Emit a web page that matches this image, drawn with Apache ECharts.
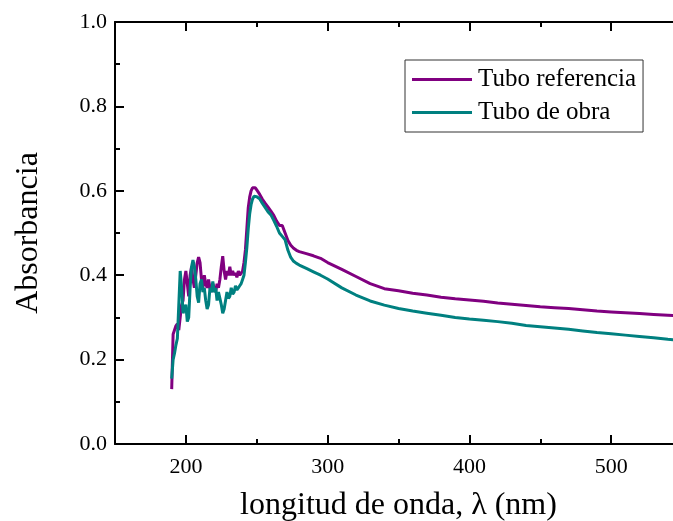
<!DOCTYPE html>
<html>
<head>
<meta charset="utf-8">
<script src="https://cdn.jsdelivr.net/npm/echarts@6/dist/echarts.min.js"></script>
<style>html,body{margin:0;padding:0;background:#fff}#c{width:673px;height:521px}</style>
</head>
<body>
<div id="c"></div>
<script>
const wavelengths = [190,191,192,193,194,195,196,197,198,199,200,201,202,203,204,205,206,207,208,209,210,211,212,213,214,215,216,217,218,219,220,221,222,223,224,225,226,227,228,229,230,231,232,233,234,235,236,237,238,239,240,241,242,243,244,245,246,247,248,249,250,252,254,256,258,260,262,264,266,268,270,272,274,276,278,280,285,290,295,300,310,320,330,340,350,360,370,380,390,400,410,420,430,440,450,460,470,480,490,500,510,520,530,540,550];
const tuboReferencia = [0.13,0.26,0.26,0.28,0.285,0.27,0.30,0.33,0.34,0.39,0.41,0.38,0.35,0.40,0.42,0.39,0.37,0.40,0.43,0.443,0.43,0.39,0.37,0.40,0.38,0.37,0.39,0.37,0.36,0.38,0.37,0.36,0.38,0.37,0.39,0.42,0.445,0.41,0.39,0.41,0.40,0.42,0.40,0.41,0.40,0.405,0.395,0.41,0.40,0.405,0.41,0.43,0.46,0.51,0.56,0.585,0.60,0.607,0.609,0.607,0.602,0.592,0.58,0.57,0.561,0.552,0.542,0.528,0.518,0.518,0.50,0.482,0.471,0.464,0.459,0.456,0.451,0.446,0.44,0.43,0.414,0.397,0.380,0.368,0.363,0.357,0.353,0.348,0.344,0.341,0.338,0.334,0.331,0.328,0.325,0.323,0.321,0.318,0.315,0.313,0.311,0.309,0.307,0.305,0.303];
const tuboDeObra = [0.155,0.20,0.215,0.235,0.25,0.33,0.41,0.37,0.31,0.32,0.33,0.29,0.30,0.37,0.42,0.436,0.42,0.39,0.35,0.335,0.38,0.39,0.36,0.37,0.34,0.32,0.33,0.37,0.36,0.385,0.36,0.37,0.34,0.36,0.345,0.33,0.31,0.32,0.34,0.36,0.345,0.35,0.37,0.355,0.36,0.375,0.365,0.37,0.375,0.38,0.39,0.40,0.43,0.465,0.51,0.545,0.567,0.58,0.587,0.588,0.586,0.581,0.57,0.56,0.55,0.543,0.53,0.516,0.50,0.492,0.484,0.459,0.442,0.433,0.428,0.424,0.416,0.408,0.40,0.391,0.370,0.353,0.339,0.329,0.321,0.315,0.310,0.305,0.300,0.296,0.293,0.290,0.286,0.281,0.278,0.275,0.272,0.268,0.264,0.261,0.258,0.255,0.252,0.248,0.245];
const xMajorTicks = [200,300,400,500];
const xMinorTicks = [250,350,450,550];
const seriesNames = ['Tubo referencia','Tubo de obra'];

const FONT = '"Liberation Serif","Times New Roman",serif';
const black = '#000';
function pairs(v){ return wavelengths.map((w,i)=>[w,v[i]]); }
function xAx(pos, ticks, len, line, labels, name){
  return {
    type:'value', position:pos, min:150, max:550, gridIndex:0,
    axisLine:{show:line, onZero:false, lineStyle:{color:black,width:2}},
    axisTick:{show:true, inside:true, length:len, customValues:ticks, lineStyle:{color:black,width:2}},
    axisLabel:{show:labels, customValues:ticks, color:black, fontFamily:FONT, fontSize:22, margin:12},
    splitLine:{show:false},
    name: name || '', nameLocation:'middle', nameGap:46,
    nameTextStyle:{color:black, fontFamily:FONT, fontSize:32}
  };
}
function yAx(pos, labels, name){
  return {
    type:'value', position:pos, min:0, max:1, interval:0.2,
    axisLine:{show:true, onZero:false, lineStyle:{color:black,width:2}},
    axisTick:{show:true, inside:true, length:9, lineStyle:{color:black,width:2}},
    minorTick:{show:true, splitNumber:2, length:5, lineStyle:{color:black,width:2}},
    axisLabel:{show:labels, color:black, fontFamily:FONT, fontSize:22, margin:8, formatter:v=>v.toFixed(1)},
    splitLine:{show:false},
    name: name || '', nameLocation:'middle', nameGap:70,
    nameTextStyle:{color:black, fontFamily:FONT, fontSize:32}
  };
}
const chart = echarts.init(document.getElementById('c'), null, {renderer:'canvas'});
chart.setOption({
  animation:false,
  backgroundColor:'#fff',
  grid:{left:115, top:22, right:-9, bottom:77, containLabel:false, outerBoundsMode:'none'},
  xAxis:[
    xAx('bottom', xMajorTicks, 9, true, true, 'longitud de onda, λ (nm)'),
    xAx('bottom', xMinorTicks, 5, false, false),
    xAx('top', xMajorTicks, 9, true, false),
    xAx('top', xMinorTicks, 5, false, false)
  ],
  yAxis:[ yAx('left', true, 'Absorbancia'), yAx('right', false) ],
  legend:{
    data:seriesNames, orient:'vertical', left:405, top:60,
    icon:'rect', itemWidth:60, itemHeight:3, itemGap:4,
    padding:[5,7,5,7], borderColor:'#333', borderWidth:1, backgroundColor:'#fff',
    textStyle:{color:black, fontFamily:FONT, fontSize:25, lineHeight:29, padding:[0,0,0,1]}
  },
  series:[
    {name:seriesNames[0], type:'line', data:pairs(tuboReferencia), showSymbol:false, symbol:'none',
     lineStyle:{color:'#800080', width:3}, itemStyle:{color:'#800080'}, xAxisIndex:0, yAxisIndex:0},
    {name:seriesNames[1], type:'line', data:pairs(tuboDeObra), showSymbol:false, symbol:'none',
     lineStyle:{color:'#008080', width:3}, itemStyle:{color:'#008080'}, xAxisIndex:0, yAxisIndex:0}
  ]
});
</script>
</body>
</html>
